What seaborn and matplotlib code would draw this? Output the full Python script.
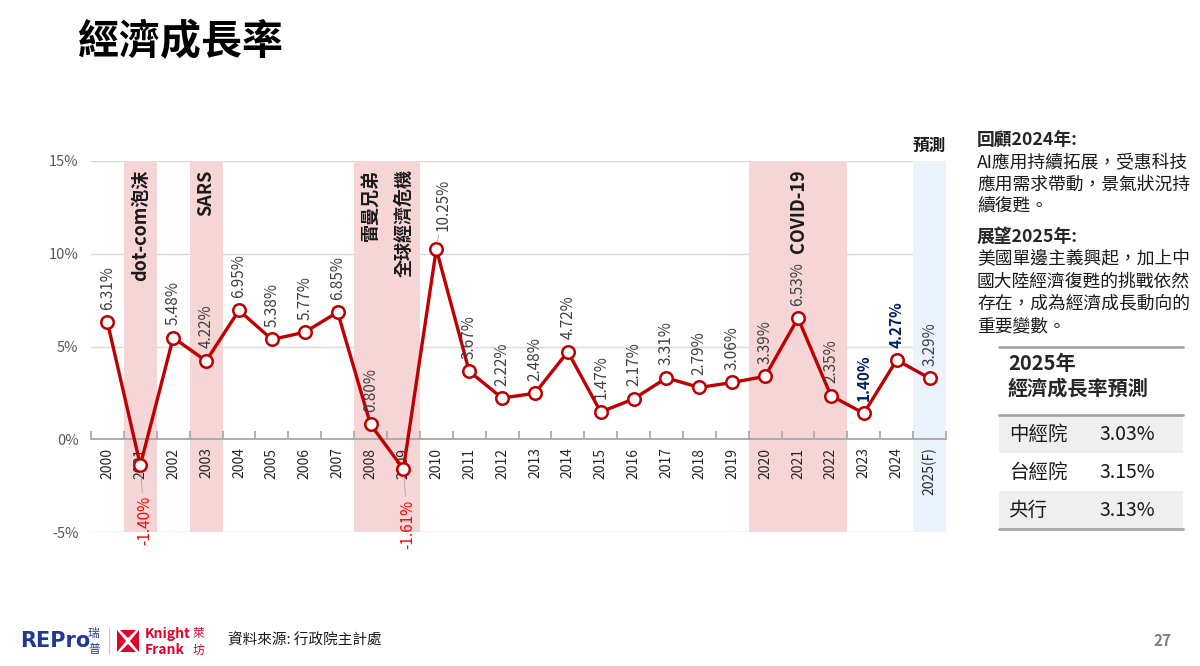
import numpy as np
import matplotlib
matplotlib.use("Agg")
import matplotlib.pyplot as plt
from matplotlib.patches import Polygon, Rectangle
from matplotlib.lines import Line2D
import seaborn as sns

# 資料
years = ["2000", "2001", "2002", "2003", "2004", "2005", "2006", "2007", "2008", "2009",
         "2010", "2011", "2012", "2013", "2014", "2015", "2016", "2017", "2018", "2019",
         "2020", "2021", "2022", "2023", "2024", "2025(F)"]
growth = [6.31, -1.40, 5.48, 4.22, 6.95, 5.38, 5.77, 6.85, 0.80, -1.61,
          10.25, 3.67, 2.22, 2.48, 4.72, 1.47, 2.17, 3.31, 2.79, 3.06,
          3.39, 6.53, 2.35, 1.40, 4.27, 3.29]
events = [("dot-com泡沫", "2001"), ("SARS", "2003"), ("雷曼兄弟", "2008"),
          ("全球經濟危機", "2009"), ("COVID-19", "2021")]
event_bands = [("2001", "2001"), ("2003", "2003"), ("2008", "2009"), ("2020", "2022")]
forecast_band = ("2025(F)", "2025(F)")
yticks = [-5, 0, 5, 10, 15]

review_title = "回顧2024年:"
review_lines = ["AI應用持續拓展，受惠科技", "應用需求帶動，景氣狀況持", "續復甦。"]
outlook_title = "展望2025年:"
outlook_lines = ["美國單邊主義興起，加上中", "國大陸經濟復甦的挑戰依然", "存在，成為經濟成長動向的", "重要變數。"]
table_title = ["2025年", "經濟成長率預測"]
inst_names = ["中經院", "台經院", "央行"]
inst_values = ["3.03%", "3.15%", "3.13%"]

RED = "#C00000"
NAVY = "#002060"
PINK = "#F6D5D7"
LIGHTBLUE = "#EAF3FB"
GRAY_TXT = "#595959"

sns.set_style("white")
plt.rcParams["font.family"] = ["Noto Sans CJK TC", "DejaVu Sans"]

W, H = 1200, 666
fig = plt.figure(figsize=(12, 6.66), dpi=100)

def fx(px):
    return px / W

def fy(py):
    return 1 - py / H

ax = fig.add_axes([fx(91), fy(532), fx(946 - 91), (532 - 161) / H])
xs = np.arange(len(years))
idx = {y: i for i, y in enumerate(years)}

# 背景區塊
for a, b in event_bands:
    ax.axvspan(idx[a] - 0.5, idx[b] + 0.5, color=PINK, lw=0, zorder=1)
ax.axvspan(idx[forecast_band[0]] - 0.5, idx[forecast_band[1]] + 0.5, color=LIGHTBLUE, lw=0, zorder=1)

for t in yticks:
    if t != 0:
        ax.axhline(t, color="#D9D9D9", lw=1, zorder=0.5)

sns.lineplot(x=xs, y=growth, ax=ax, color=RED, linewidth=2.4, marker="o",
             markersize=9, markerfacecolor="white", markeredgecolor=RED,
             markeredgewidth=1.8, zorder=5)

ax.set_xlim(-0.5, len(years) - 0.5)
ax.set_ylim(-5, 15)
ax.set_xlabel("")
ax.set_ylabel("")
ax.set_axisbelow(False)
ax.tick_params(axis="y", length=0, pad=9)
ax.tick_params(axis="x", which="major", length=0, pad=6, labelrotation=90)
ax.set_yticks(yticks)
ax.set_yticklabels([f"{t}%" for t in yticks], color=GRAY_TXT, fontsize=10.5)
ax.set_xticks(xs)
ax.set_xticklabels(years, rotation=90, color=GRAY_TXT, fontsize=11.3)
ax.set_xticks(np.arange(-0.5, len(years), 1), minor=True)
ax.tick_params(axis="x", which="minor", length=6, direction="in", color="#A6A6A6",
               width=1.2, bottom=True)
for s in ["top", "right", "left"]:
    ax.spines[s].set_visible(False)
ax.spines["bottom"].set_position(("data", 0))
ax.spines["bottom"].set_color("#A6A6A6")
ax.spines["bottom"].set_linewidth(1.3)
ax.spines["bottom"].set_zorder(3)
ax.xaxis.set_zorder(3)
ax.yaxis.set_zorder(3)

# 數據標籤
for i, (yr, v) in enumerate(zip(years, growth)):
    lab = f"{v:.2f}%"
    if v < 0:
        ax.annotate(lab, (i, v), xytext=(3, -22), textcoords="offset points",
                    rotation=90, ha="center", va="top", fontsize=11, color="#FF0000",
                    arrowprops=dict(arrowstyle="-", color="#A6A6A6", lw=0.6, shrinkA=0, shrinkB=5),
                    zorder=6)
    elif yr == "2010":
        ax.annotate(lab, (i, v), xytext=(5, 13), textcoords="offset points",
                    rotation=90, ha="center", va="bottom", fontsize=11, color="#404040",
                    arrowprops=dict(arrowstyle="-", color="#A6A6A6", lw=0.6, shrinkA=0, shrinkB=5),
                    zorder=6)
    elif yr in ("2023", "2024"):
        ax.annotate(lab, (i, v), xytext=(0, 9), textcoords="offset points",
                    rotation=90, ha="center", va="bottom", fontsize=11, color=NAVY,
                    fontweight="bold", zorder=6)
    else:
        ax.annotate(lab, (i, v), xytext=(0, 9), textcoords="offset points",
                    rotation=90, ha="center", va="bottom", fontsize=11, color="#404040",
                    zorder=6)

# 事件標籤
for name, yr in events:
    ax.text(idx[yr], 14.55, name, rotation=90, ha="center", va="top",
            fontsize=13, fontweight="bold", color="#1A1A1A", zorder=6)
ax.text(idx["2025(F)"], 15.8, "預測", ha="center", va="center",
        fontsize=12, fontweight="bold", color="#1A1A1A")

# 標題
fig.text(fx(78), fy(42), "經濟成長率", fontsize=29.5, fontweight="bold", va="center", color="black")

# 右側說明
fig.text(fx(977), fy(140), review_title, fontsize=12.8, fontweight="bold", va="center")
for k, line in enumerate(review_lines):
    fig.text(fx(977), fy(163 + 22 * k), line, fontsize=12.8, va="center", color="#1A1A1A")
fig.text(fx(977), fy(237), outlook_title, fontsize=12.8, fontweight="bold", va="center")
for k, line in enumerate(outlook_lines):
    fig.text(fx(977), fy(259 + 22.3 * k), line, fontsize=12.8, va="center", color="#1A1A1A")

# 預測表
fig.add_artist(Line2D([fx(999), fx(1183)], [fy(347), fy(347)], color="#A6A6A6", lw=2))
fig.text(fx(1008), fy(363), table_title[0], fontsize=14.5, fontweight="bold", va="center")
fig.text(fx(1008), fy(388), table_title[1], fontsize=14.5, fontweight="bold", va="center")
row_top = 415
row_h = 38
for k, (n, val) in enumerate(zip(inst_names, inst_values)):
    top = row_top + k * row_h
    if k % 2 == 0:
        fig.add_artist(Rectangle((fx(999), fy(top + row_h)), fx(184), row_h / H,
                                 facecolor="#EFEFEF", edgecolor="none"))
    fig.text(fx(1009), fy(top + row_h / 2), n, fontsize=14, va="center", color="#1A1A1A")
    fig.text(fx(1099), fy(top + row_h / 2), val, fontsize=14, va="center", color="#1A1A1A")
fig.add_artist(Line2D([fx(999), fx(1183)], [fy(row_top), fy(row_top)], color="#A6A6A6", lw=2))
fig.add_artist(Line2D([fx(999), fx(1183)], [fy(row_top + 3 * row_h), fy(row_top + 3 * row_h)],
                      color="#A6A6A6", lw=2))

# 頁尾
fig.text(fx(20), fy(641), "REPro", fontsize=15, fontweight="bold", color="#1F3A93",
         va="center", family=["DejaVu Sans"])
fig.text(fx(88), fy(633), "瑞", fontsize=8.5, color="#1F3A93", va="center")
fig.text(fx(88), fy(650), "普", fontsize=8.5, color="#1F3A93", va="center")
fig.add_artist(Line2D([fx(109), fx(109)], [fy(628), fy(654)], color="#C8C8C8", lw=0.8))
cx, cy, r = 128, 641, 11
tri = [
    [(cx - r, cy - r), (cx - r, cy + r), (cx - 2, cy)],
    [(cx + r, cy - r), (cx + r, cy + r), (cx + 2, cy)],
    [(cx - r + 3, cy - r), (cx + r - 3, cy - r), (cx, cy - 3)],
    [(cx - r + 3, cy + r), (cx + r - 3, cy + r), (cx, cy + 3)],
]
for t in tri:
    fig.add_artist(Polygon([(fx(px), fy(py)) for px, py in t], closed=True,
                           facecolor="#E4002B", edgecolor="none"))
fig.text(fx(145), fy(634), "Knight", fontsize=10, fontweight="bold", color="#E4002B", va="center")
fig.text(fx(145), fy(650), "Frank", fontsize=10, fontweight="bold", color="#E4002B", va="center")
fig.text(fx(193), fy(633), "萊", fontsize=8.5, color="#E4002B", va="center")
fig.text(fx(193), fy(650), "坊", fontsize=8.5, color="#E4002B", va="center")
fig.text(fx(228), fy(641), "資料來源: 行政院主計處", fontsize=10.5, va="center", color="#1A1A1A")
fig.text(fx(1172), fy(641), "27", fontsize=11, fontweight="bold", color="#7F7F7F",
         va="center", ha="right")

fig.savefig("out.png", dpi=100)
